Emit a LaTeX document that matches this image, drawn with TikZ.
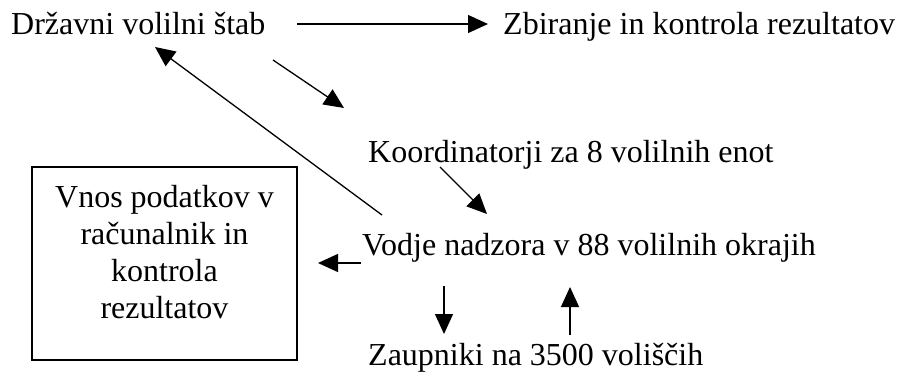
\documentclass[tikz,border=0pt]{standalone}
\usepackage{fontspec}
\setmainfont{Liberation Serif}
\usetikzlibrary{arrows.meta}

\begin{document}
\begin{tikzpicture}[x=1pt,y=-1pt,
  label/.style={inner sep=0pt,anchor=base west,font=\fontsize{32}{37}\selectfont},
  boxtext/.style={inner sep=0pt,align=center,font=\fontsize{32}{37}\selectfont},
  frame/.style={draw,line width=1.3pt,minimum width=265pt,minimum height=193pt,inner sep=0pt},
  arr/.style={line width=1.3pt,-{Triangle[length=20pt,width=18pt]}}]
\useasboundingbox (0,0) rectangle (897,373);

% text labels
\node[label] (dvs)   at (11,34)  {Državni volilni štab};
\node[label] (zbir)  at (503,34) {Zbiranje in kontrola rezultatov};
\node[label] (koord) at (368,162) {Koordinatorji za 8 volilnih enot};
\node[label] (vodje) at (362,255) {Vodje nadzora v 88 volilnih okrajih};
\node[label] (zaup)  at (368,365) {Zaupniki na 3500 voliščih};

% data entry box, its text set a little above the middle
\node[frame] (vnos) at (164.5,263.5) {};
\node[boxtext] (vnostxt) at ([yshift=11pt]vnos.center)
  {Vnos podatkov v\\računalnik in\\kontrola\\rezultatov};

% arrow end points
\coordinate (h1) at (297,24);  \coordinate (h2) at (488,24);
\coordinate (d1) at (273,60);  \coordinate (d2) at (344,108);
\coordinate (u1) at (382,215); \coordinate (u2) at (155,47);
\coordinate (k1) at (440,167); \coordinate (k2) at (487,214);
\coordinate (l1) at (361,263); \coordinate (l2) at (318,263);
\coordinate (v1) at (444,286); \coordinate (v2) at (444,334);
\coordinate (w1) at (570,335); \coordinate (w2) at (570,287);

\draw[arr] (h1) -- (h2);
\draw[arr] (d1) -- (d2);
\draw[arr] (u1) -- (u2);
\draw[arr] (k1) -- (k2);
\draw[arr] (l1) -- (l2);
\draw[arr] (v1) -- (v2);
\draw[arr] (w1) -- (w2);
\end{tikzpicture}
\end{document}
